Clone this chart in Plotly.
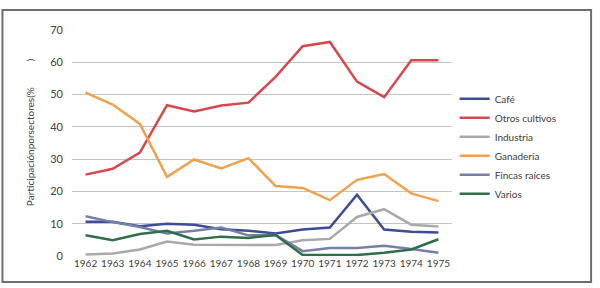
import plotly.graph_objects as go

years = [str(y) for y in range(1962, 1976)]

cafe = [10.6, 10.6, 9.2, 10.0, 9.7, 8.3, 7.8, 7.0, 8.2, 8.8, 19.0, 8.2, 7.5, 7.3]
otros_cultivos = [25.2, 27.0, 32.0, 46.7, 44.8, 46.6, 47.5, 55.5, 65.0, 66.3, 54.0, 49.2, 60.6, 60.6]
industria = [0.5, 0.8, 2.0, 4.5, 3.5, 3.5, 3.5, 3.4, 4.9, 5.3, 12.1, 14.5, 9.7, 9.1]
ganaderia = [50.6, 46.9, 40.9, 24.5, 29.9, 27.1, 30.3, 21.7, 21.1, 17.3, 23.6, 25.4, 19.4, 17.0]
fincas_raices = [12.3, 10.5, 9.0, 7.0, 7.8, 8.8, 6.4, 6.5, 1.5, 2.5, 2.5, 3.2, 2.2, 1.0]
varios = [6.4, 4.9, 6.8, 7.8, 5.1, 6.0, 5.6, 6.5, 0.3, 0.2, 0.3, 1.0, 2.0, 5.2]

series = [
    ("Café", cafe, "#3d4b98"),
    ("Otros cultivos", otros_cultivos, "#d9474c"),
    ("Industria", industria, "#a9a9a9"),
    ("Ganadería", ganaderia, "#f0a24e"),
    ("Fincas raíces", fincas_raices, "#787fa6"),
    ("Varios", varios, "#2f6e4b"),
]

y_ticks = [0, 10, 20, 30, 40, 50, 60, 70]

fig = go.Figure()
for name, vals, color in series:
    fig.add_trace(go.Scatter(x=years, y=vals, name=name, mode="lines",
                             line=dict(color=color, width=2.5)))

font = "Lato, Calibri, Carlito, sans-serif"

fig.update_layout(
    width=600, height=288,
    margin=dict(l=72, r=148, t=30, b=32),
    paper_bgcolor="white", plot_bgcolor="white",
    font=dict(family=font, size=10, color="#404040"),
    showlegend=True,
    legend=dict(x=1.007, y=0.76, xanchor="left", yanchor="top",
                font=dict(size=10, color="#404040"), itemwidth=30,
                tracegroupgap=0, bgcolor="rgba(0,0,0,0)"),
    xaxis=dict(type="category", range=[-0.5, 13.5], showgrid=False, showline=False,
               ticks="", tickfont=dict(size=10, color="#404040")),
    yaxis=dict(range=[0, 70], tickvals=y_ticks, showgrid=True, gridcolor="#c4c4c4",
               gridwidth=1, zeroline=False, showline=False, ticks="",
               ticklabelstandoff=8, tickfont=dict(size=11, color="#404040")),
)

fig.add_annotation(
    text="Participaciónporsectores(%" + "\u00a0" * 10 + ")",
    xref="paper", yref="paper", x=-0.133, y=0.55, textangle=-90,
    showarrow=False, font=dict(size=10, color="#404040"),
)

fig.add_shape(type="rect", xref="paper", yref="paper",
              x0=-0.183, x1=1.366, y0=-0.115, y1=1.088,
              line=dict(color="#6e6e6e", width=2), fillcolor="rgba(0,0,0,0)")

fig.write_html("out.html", config={"displayModeBar": False},
               post_script="document.body.style.margin='0';")
